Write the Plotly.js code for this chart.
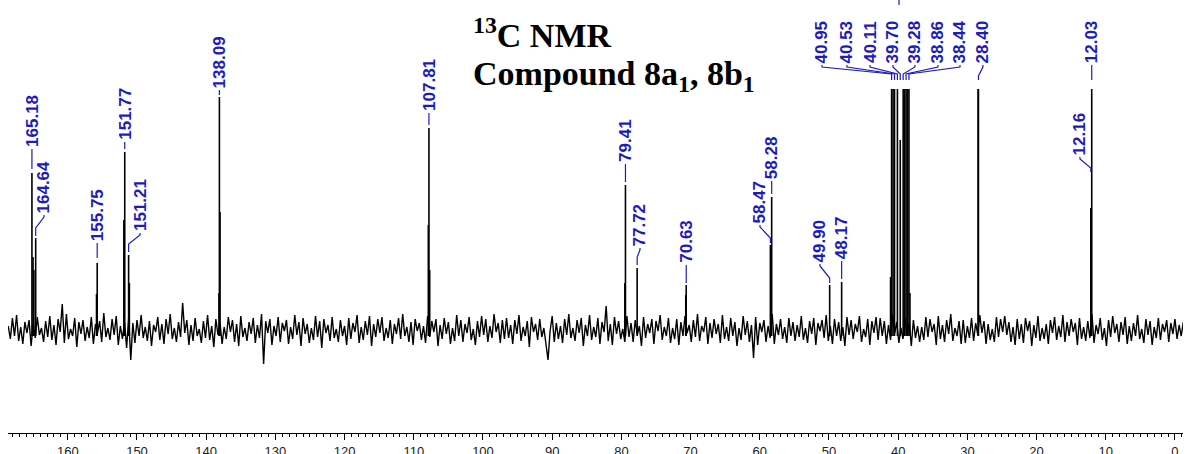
<!DOCTYPE html>
<html>
<head>
<meta charset="utf-8">
<script src="https://cdn.plot.ly/plotly-3.0.1.min.js"></script>
<style>html,body{margin:0;padding:0;background:#fff;}#chart{width:1188px;height:454px;}</style>
</head>
<body>
<div id="chart"></div>
<script>
// ---------- data ----------
// baseline noise (intensity units), sampled evenly from noiseStart to noiseEnd ppm
const noiseStart = 168.6;
const noiseEnd = -1.2;
const noiseVals = [
4,-9,12,-6,15,-11,3,-14,8,-3,10,-16,6,-8,13,-5,2,-12,9,-7,
14,-10,5,-15,11,-2,26,-13,16,-9,1,-6,12,-17,8,-4,10,-11,3,-8,
13,-14,6,-3,9,-12,17,-7,2,-10,11,-5,14,-15,4,-9,8,-18,12,-30,
7,-13,10,-6,15,-8,3,-11,9,-16,5,-2,13,-10,6,-14,11,-4,16,-9,
2,-12,8,-7,27,-3,10,-15,5,-11,12,-6,1,-13,9,-8,15,-10,4,-17,
11,-5,7,-14,3,-9,13,-2,10,-12,6,-16,14,-7,2,-11,8,-4,12,-13,
5,-8,16,-34,9,-3,11,-15,4,-6,13,-12,7,-1,10,-14,3,-9,15,-5,
8,-16,12,-4,6,-13,2,-10,14,-7,9,-18,11,-3,5,-11,13,-8,1,-12,
10,-6,4,-15,12,-9,7,-2,15,-13,3,-10,9,-5,14,-16,6,-7,11,-3,
13,-11,2,-8,10,-14,6,-4,12,-9,16,-6,3,-12,8,-15,11,-1,7,-10,
4,-13,14,-7,9,-2,11,-16,5,-9,12,-4,8,-14,2,-11,15,-6,10,-12,
6,-3,13,-10,1,-15,9,-7,14,-5,11,-12,4,-8,16,-2,7,-13,10,-9,
12,-8,5,-14,10,-4,15,-11,3,-6,9,-17,13,-2,6,-10,11,-7,2,-15,
-30,-1,14,-12,7,-9,4,-13,11,-5,16,-8,2,-11,10,-3,12,-16,5,-6,
15,-10,3,-7,12,-14,8,-2,24,-11,6,-15,13,-4,9,-9,1,-12,14,-7,
7,-12,10,-5,4,-16,13,-8,6,-3,11,-14,9,-1,15,-10,3,-6,12,-13,
2,-9,11,-15,8,-6,14,-3,5,-12,10,-7,16,-11,4,-2,13,-14,7,-8,
11,-4,6,-13,15,-9,3,-11,12,-6,8,-16,2,-10,14,-5,9,-12,5,-28,
13,-15,7,-2,10,-12,4,-8,16,-14,6,-5,11,-9,3,-13,12,-6,8,-11,
5,-7,14,-10,2,-13,9,-4,12,-15,7,-1,10,-8,15,-11,4,-14,11,-6,
8,-11,3,-16,13,-5,10,-9,6,-2,14,-12,1,-7,11,-15,9,-3,13,-10,
12,-6,9,-14,5,-10,15,-3,8,-13,2,-9,12,-5,7,-16,10,-8,4,-12,
3,-10,13,-7,11,-2,6,-15,14,-9,5,-12,10,-4,16,-11,2,-6,9,-14,
10,-13,4,-8,12,-11,7,-5,15,-3,9,-14,6,-10,1,-12,13,-7,11,-2,
14,-5,8,-12,3,-15,11,-9,6,-13,12,-1,9,-16,5,-8,14,-11,2,-9,
6,-14,10,-3,13,-10,4,-7,15,-12,8,-6,11,-2,7,-15,12,-9,3,-11,
9,-8,16,-13,5,-4,12,-10,2,-16,10,-7,14,-3,6,-12,8,-5,13,-14,
4,-11,7,-6,15,-9,1,-13,11,-5,9,-15,3,-8,12,-10,6,-2,10,-12,
7,-4,11,-9,5,-6,8
];

// resolved lines (ppm) and their heights (intensity units)
const peakPpm = [165.18,165.02,164.90,164.64,155.85,155.75,151.90,151.77,151.21,151.10,
                 138.15,138.09,138.00,107.90,107.81,107.70,79.50,79.41,77.72,70.70,70.63,
                 58.47,58.28,49.90,48.17,
                 41.10,40.95,40.74,40.53,40.11,39.70,39.28,39.07,38.86,38.65,38.44,38.30,
                 28.45,28.40,12.16,12.03];
const peakHeight = [157,73,60,92,36,67,110,178,75,47,
                    37,233,118,105,202,60,47,145,62,35,45,
                    85,133,45,48,
                    53,241,241,241,241,190,241,241,241,241,241,37,
                    241,241,122,241];

// peak labels
const labelText = ["165.18","164.64","155.75","151.77","151.21","138.09","107.81","79.41","77.72",
                   "70.63","58.47","58.28","49.90","48.17","40.95","40.53","40.11","39.70",
                   "39.28","38.86","38.44","28.40","12.16","12.03"];
const labelPeak = [165.18,164.64,155.75,151.77,151.21,138.09,107.81,79.41,77.72,
                   70.63,58.47,58.28,49.90,48.17,40.95,40.53,40.11,39.70,
                   39.28,38.86,38.44,28.40,12.16,12.03];

// ---------- layout of labels (positions only) ----------
// [label x (ppm), text bottom (intensity), kink top, kink bottom, leader end]
const labelLayout = [
  [165.18,183,181,181,161],
  [163.44,117,115,102,94],
  [155.75,89,87,87,72],
  [151.77,190,188,188,181],
  [149.56,99,97,86,78],
  [138.09,242,240,240,235],
  [107.81,219,217,217,205],
  [79.41,168,166,166,148],
  [77.31,84,82,73,65],
  [70.63,67,65,65,47],
  [59.97,107,105,92,87],
  [58.28,151,149,149,136],
  [51.30,68,66,52,47],
  [48.17,71,69,69,51],
  [51.01,267,265,256,250],
  [47.40,267,265,256,250],
  [44.07,267,265,256,250],
  [40.76,267,265,256,250],
  [37.58,267,265,256,250],
  [34.25,267,265,256,250],
  [31.07,267,265,256,250],
  [27.75,267,265,254,250],
  [13.73,175,173,162,158],
  [12.03,267,265,265,250]
];

const BLUE = '#1c1cbe';

// ---------- traces ----------
const nN = noiseVals.length;
const noiseX = noiseVals.map((v, i) => noiseStart - i * (noiseStart - noiseEnd) / (nN - 1));
const noiseTrace = {
  x: noiseX, y: noiseVals, type: 'scatter', mode: 'lines',
  line: {color: '#000', width: 1.4}, hoverinfo: 'skip', showlegend: false
};

const px = [], py = [];
peakPpm.forEach((p, i) => { px.push(p, p, null); py.push(-6, peakHeight[i], null); });
const peakTrace = {
  x: px, y: py, type: 'scatter', mode: 'lines',
  line: {color: '#000', width: 1.6}, hoverinfo: 'skip', showlegend: false
};

const lx = [], ly = [];
labelLayout.forEach((L, i) => {
  const P = labelPeak[i];
  lx.push(L[0], L[0], P, P, null);
  ly.push(L[1] - 2, L[2] - 2, L[3], L[4], null);
});
// leader of a label above the visible area
lx.push(39.88, 39.88, null); ly.push(331, 325, null);
const leaderTrace = {
  x: lx, y: ly, type: 'scatter', mode: 'lines',
  line: {color: BLUE, width: 1.2}, hoverinfo: 'skip', showlegend: false
};

const annotations = labelText.map((t, i) => ({
  text: '<b>' + t + '</b>', x: labelLayout[i][0], y: labelLayout[i][1], xref: 'x', yref: 'y',
  textangle: -90, xanchor: 'center', yanchor: 'bottom', showarrow: false,
  borderpad: 0, borderwidth: 0,
  font: {family: 'Liberation Sans, Arial, sans-serif', size: 17, color: BLUE}
}));
annotations.push({
  text: '<b><sup>13</sup>C NMR</b>', xref: 'paper', yref: 'paper',
  x: 0.3957, y: 0.875, xanchor: 'left', yanchor: 'bottom', showarrow: false,
  borderpad: 0, borderwidth: 0,
  font: {family: 'Liberation Serif, Times New Roman, serif', size: 34, color: '#000'}
});
annotations.push({
  text: '<b>Compound 8a<sub>1</sub>, 8b<sub>1</sub></b>', xref: 'paper', yref: 'paper',
  x: 0.3957, y: 0.873, xanchor: 'left', yanchor: 'top', showarrow: false,
  borderpad: 0, borderwidth: 0,
  font: {family: 'Liberation Serif, Times New Roman, serif', size: 34, color: '#000'}
});

const layout = {
  width: 1188, height: 454,
  margin: {l: 8, r: 5, t: 0, b: 21},
  paper_bgcolor: '#fff', plot_bgcolor: '#fff',
  showlegend: false,
  xaxis: {
    range: [168.64, -1.16], tick0: 0, dtick: 10,
    ticks: 'outside', ticklen: 6, tickwidth: 1, tickcolor: '#000',
    showline: true, linecolor: '#000', linewidth: 1,
    showgrid: false, zeroline: false,
    tickfont: {family: 'Liberation Sans, Arial, sans-serif', size: 13, color: '#222'},
    minor: {dtick: 1, tick0: 0, ticks: 'outside', ticklen: 3, tickwidth: 1, tickcolor: '#000', showgrid: false}
  },
  yaxis: {range: [-103, 330], visible: false, showgrid: false, zeroline: false, fixedrange: true},
  annotations: annotations
};

Plotly.newPlot('chart', [noiseTrace, peakTrace, leaderTrace], layout, {staticPlot: true, displayModeBar: false});
</script>
</body>
</html>
